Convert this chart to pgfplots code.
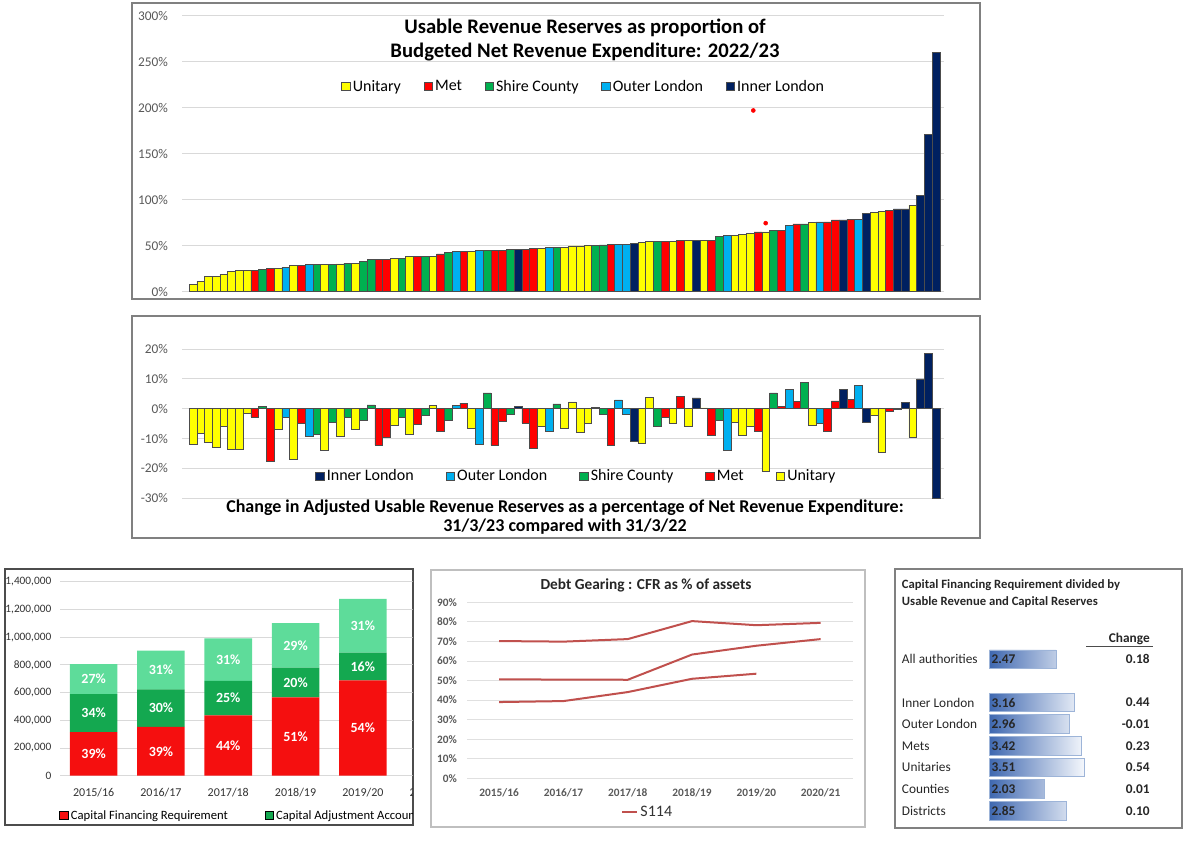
\documentclass[border=0pt]{standalone}
\usepackage{pgfplots}
\pgfplotsset{compat=1.18}
\usepackage{pgfplotstable}
\usepackage{fontspec}
\setmainfont{Carlito}

\definecolor{cY}{HTML}{FFFF00}
\definecolor{cR}{HTML}{FF0000}
\definecolor{cG}{HTML}{00B050}
\definecolor{cB}{HTML}{00B0F0}
\definecolor{cN}{HTML}{002060}
\definecolor{capred}{HTML}{F50F0F}
\definecolor{capgreen}{HTML}{14A850}
\definecolor{caplight}{HTML}{5EDC9A}
\definecolor{gearline}{HTML}{C0504D}
\definecolor{barL}{HTML}{3F68B0}
\definecolor{barR}{HTML}{F4F7FC}
\definecolor{barE}{HTML}{9DB4D8}
\definecolor{ticktxt}{HTML}{595959}

% authorities sorted by reserves ratio: position, 2022/23 ratio (%), change (pp)
\pgfplotstableread{
i top chg
1 8 -11.8
2 11.6 -8.2
3 17 -11.3
4 17 -12.8
5 19 -5.9
6 22 -13.5
7 23 -13.5
8 23 -1.6
12 25 -7.0
14 28.7 -16.9
18 30 -13.9
20 30.2 -9.3
22 31 -6.8
27 36 -5.5
29 38 -8.5
32 38.5 1.1
37 43.5 -6.5
46 47.5 -6.0
49 48 -6.4
50 49.7 2.3
51 49.7 -8.0
52 50 -4.9
59 54 -11.6
60 54.7 3.8
63 55 -4.8
65 56 -6.0
67 56.2 0.3
71 61 -4.4
72 62 -8.9
73 63 -6.0
75 65 -21.1
81 75 -5.6
89 86 -2.3
90 87.4 -14.7
94 94 -9.7
}\unitary
\pgfplotstableread{
i top chg
9 23.5 -2.7
11 25 -17.7
15 29 -4.8
25 35 -12.2
26 35 -9.6
30 38 -5.3
33 41 -7.4
36 43.5 1.9
40 45 -12.3
41 45 -4.3
44 45.7 -4.7
45 46.7 -13.4
55 51.8 -12.2
62 55 -2.8
64 56 4.1
68 56.2 -8.9
74 65 -7.6
77 66.7 0.9
79 73.6 2.5
83 75.8 -7.5
84 78 2.6
86 78.7 3.1
91 88 -1.0
}\met
\pgfplotstableread{
i top chg
10 24 0.8
17 29.3 -8.7
19 30 -4.5
21 31 -2.7
23 33 -4.0
24 35 1.3
28 36 -2.9
31 38 -2.3
34 42.5 -4.0
39 45 5.3
42 45.7 -1.8
48 47.8 1.6
53 50 0.4
54 50.8 -1.9
61 54.7 -6.0
69 60.5 -3.7
76 66.7 5.3
80 73.6 8.8
}\shire
\pgfplotstableread{
i top chg
13 26.5 -2.7
16 29.3 -9.1
35 43.5 1.2
38 45 -12.0
47 47.8 -7.7
56 51.8 3.0
57 51.8 -1.8
70 61 -13.9
78 72.5 6.4
82 75.8 -4.7
87 78.7 7.9
}\outer
\pgfplotstableread{
i top chg
43 45.7 0.8
58 52.6 -11.0
66 56 3.6
85 78 6.4
88 84.8 -4.6
92 90 -0.3
93 90 2.0
95 104.8 10.0
96 171 18.6
97 260 -30.0
}\inner

% capital financing components
\pgfplotstableread{
x cfr caa other
0 314000 274000 218000
1 352000 271000 279000
2 436000 248000 308000
3 566000 214000 322000
4 688000 200000 388000
}\capfin

% share of each component, placed at the middle of its segment
\pgfplotstableread{
x y share
0 157000 39\%
0 451000 34\%
0 697000 27\%
1 176000 39\%
1 487500 30\%
1 762500 31\%
2 218000 44\%
2 560000 25\%
2 838000 31\%
3 283000 51\%
3 673000 20\%
3 941000 29\%
4 344000 54\%
4 788000 16\%
4 1082000 31\%
}\capshare

% debt gearing
\pgfplotstableread{
x a b c
0 70.2 50.6 39.0
1 69.9 50.5 39.5
2 71.2 50.4 44.1
3 80.4 63.3 50.9
4 78.3 67.8 53.5
5 79.5 71.2 nan
}\gearing

% CFR / reserves
\pgfplotstableread{
row v chg
0 2.47 0.18
2 3.16 0.44
3 2.96 -0.01
4 3.42 0.23
5 3.51 0.54
6 2.03 0.01
7 2.85 0.10
}\cfrratio

\pgfplotsset{
  cat/.style={ybar, bar width=1, bar shift=0pt, draw=black!70, line width=0.4pt, fill=#1, forget plot},
  sqkey/.style={legend image code/.code={\draw[##1,/tikz/.cd,yshift=-0.3em] (0pt,0pt) rectangle (0.62em,0.62em);}},
  catkey/.style={sqkey, draw=black!70, line width=0.4pt, fill=#1},
}

\begin{document}
\begin{tikzpicture}

% ---------- frames and free text ----------
\begin{scope}[x=0.75pt,y=-0.75pt]
  \draw[black!50, line width=1.1pt] (132,3) rectangle (980,299);
  \draw[black!50, line width=1.1pt] (132,316) rectangle (980,538);
  \draw[black!70, line width=1.3pt] (5,569) rectangle (413,825);
  \draw[black!25, line width=0.9pt] (431,570) rectangle (865,827);
  \draw[black!50, line width=0.9pt] (895,569) rectangle (1182,828);

  \node[font=\bfseries\fontsize{15.5}{18}\selectfont] at (585,28) {Usable Revenue Reserves as proportion of};
  \node[font=\bfseries\fontsize{15.5}{18}\selectfont] at (585,52) {Budgeted Net Revenue Expenditure: 2022/23};

  \node[font=\bfseries\fontsize{13.5}{15}\selectfont] at (565,508) {Change in Adjusted Usable Revenue Reserves as a percentage of Net Revenue Expenditure:};
  \node[font=\bfseries\fontsize{13.5}{15}\selectfont] at (565,527) {31/3/23 compared with 31/3/22};

  \node[font=\bfseries\fontsize{11.5}{13}\selectfont, text=black!85] at (646,585) {Debt Gearing : CFR as \% of assets};

  \node[anchor=west, inner sep=0pt, font=\bfseries\fontsize{9.5}{11}\selectfont, text=black!85] at (901.7,585) {Capital Financing Requirement divided by};
  \node[anchor=west, inner sep=0pt, font=\bfseries\fontsize{9.5}{11}\selectfont, text=black!85] at (901.7,602.3) {Usable Revenue and Capital Reserves};
  \node[anchor=east, inner sep=0pt, font=\bfseries\fontsize{10}{12}\selectfont, text=black!85] at (1150,639) {Change};
  \draw[black!70, line width=0.6pt] (1086,646.7) -- (1153,646.7);
\end{scope}

% ---------- reserves ratio 2022/23 ----------
\begin{axis}[
  at={(136.5pt,-218.775pt)}, anchor=south west,
  scale only axis, width=571.5pt, height=207pt,
  xmin=-0.408, xmax=98.04, ymin=0, ymax=300,
  xtick=\empty, ytick={0,50,...,300},
  axis line style={draw=none}, major tick length=0pt,
  ymajorgrids, grid style={black!15, line width=0.6pt},
  /pgf/number format/assume math mode=true,
  yticklabel={\pgfmathprintnumber{\tick}\%},
  yticklabel style={font=\fontsize{10}{12}\selectfont, text=ticktxt, xshift=-7pt},
  legend style={draw=none, fill=none, at={(0.5276,0.7428)}, anchor=center,
    legend columns=-1, font=\fontsize{12}{14}\selectfont,
    /tikz/every even column/.append style={column sep=15pt}},
]
\addplot[cat=cY] table[x=i,y=top]{\unitary};
\addplot[cat=cR] table[x=i,y=top]{\met};
\addplot[cat=cG] table[x=i,y=top]{\shire};
\addplot[cat=cB] table[x=i,y=top]{\outer};
\addplot[cat=cN] table[x=i,y=top]{\inner};
\addplot[only marks, mark=*, mark size=1.5pt, color=cR, forget plot] coordinates {(73.4,197) (75,74.5)};
\addlegendimage{catkey=cY} \addlegendentry{Unitary}
\addlegendimage{catkey=cR} \addlegendentry{Met}
\addlegendimage{catkey=cG} \addlegendentry{Shire County}
\addlegendimage{catkey=cB} \addlegendentry{Outer London}
\addlegendimage{catkey=cN} \addlegendentry{Inner London}
\end{axis}

% ---------- change in reserves ----------
\begin{axis}[
  at={(136.5pt,-373.725pt)}, anchor=south west,
  scale only axis, width=571.5pt, height=111.975pt,
  xmin=-0.408, xmax=98.04, ymin=-30, ymax=20,
  xtick=\empty, ytick={-30,-20,...,20},
  axis line style={draw=none}, major tick length=0pt,
  ymajorgrids, grid style={black!15, line width=0.6pt},
  /pgf/number format/assume math mode=true,
  yticklabel={\pgfmathprintnumber{\tick}\%},
  yticklabel style={font=\fontsize{10}{12}\selectfont, text=ticktxt, xshift=-7pt},
  legend style={draw=none, fill=none, at={(0.518,0.149)}, anchor=center,
    legend columns=-1, font=\fontsize{12}{14}\selectfont,
    /tikz/every even column/.append style={column sep=22pt}},
]
\addplot[cat=cY] table[x=i,y=chg]{\unitary};
\addplot[cat=cR] table[x=i,y=chg]{\met};
\addplot[cat=cG] table[x=i,y=chg]{\shire};
\addplot[cat=cB] table[x=i,y=chg]{\outer};
\addplot[cat=cN] table[x=i,y=chg]{\inner};
\addlegendimage{catkey=cN} \addlegendentry{Inner London}
\addlegendimage{catkey=cB} \addlegendentry{Outer London}
\addlegendimage{catkey=cG} \addlegendentry{Shire County}
\addlegendimage{catkey=cR} \addlegendentry{Met}
\addlegendimage{catkey=cY} \addlegendentry{Unitary}
\end{axis}

% ---------- capital financing stack ----------
\begin{scope}
\clip (4pt,-427pt) rectangle (309.5pt,-618.5pt);
\begin{axis}[
  at={(45pt,-581.775pt)}, anchor=south west,
  scale only axis, width=302.85pt, height=145.5pt,
  xmin=-0.5, xmax=5.5, ymin=0, ymax=1400000,
  ybar stacked, bar width=0.706,
  xtick={0,...,5}, xticklabels={2015/16,2016/17,2017/18,2018/19,2019/20,2020/21},
  ytick={0,200000,...,1400000}, scaled y ticks=false,
  axis line style={draw=none}, major tick length=0pt,
  ymajorgrids, grid style={black!15, line width=0.6pt},
  /pgf/number format/assume math mode=true,
  yticklabel style={/pgf/number format/.cd, fixed, 1000 sep={,}, /tikz/.cd,
    font=\fontsize{8.5}{10}\selectfont, text=black!80, xshift=-3pt},
  xticklabel style={font=\fontsize{9}{11}\selectfont, text=black!80, yshift=-6pt},
  legend style={draw=none, fill=none, at={(-0.012,-0.206)}, anchor=west,
    legend columns=-1, font=\fontsize{9.5}{11}\selectfont,
    /tikz/every even column/.append style={column sep=25.5pt}},
  clip=false,
]
\addplot[fill=capred, draw=none, forget plot] table[x=x,y=cfr]{\capfin};
\addplot[fill=capgreen, draw=none, forget plot] table[x=x,y=caa]{\capfin};
\addplot[fill=caplight, draw=none, forget plot] table[x=x,y=other]{\capfin};
\addlegendimage{sqkey, fill=capred, draw=none} \addlegendentry{Capital Financing Requirement}
\addlegendimage{sqkey, fill=capgreen, draw=none} \addlegendentry{Capital Adjustment Account}
\end{axis}
% segment shares, on an unstacked copy of the same axes
\begin{axis}[
  at={(45pt,-581.775pt)}, anchor=south west,
  scale only axis, width=302.85pt, height=145.5pt,
  xmin=-0.5, xmax=5.5, ymin=0, ymax=1400000,
  axis lines=none, clip=false,
]
\addplot[draw=none, point meta=explicit symbolic, nodes near coords,
  every node near coord/.append style={anchor=center, text=white,
    font=\bfseries\fontsize{10.5}{12}\selectfont}]
  table[x=x, y=y, meta=share]{\capshare};
\end{axis}
\end{scope}

% ---------- debt gearing ----------
\begin{axis}[
  at={(350.25pt,-583.725pt)}, anchor=south west,
  scale only axis, width=289.35pt, height=132pt,
  xmin=-0.5, xmax=5.5, ymin=0, ymax=90,
  xtick={0,...,5}, xticklabels={2015/16,2016/17,2017/18,2018/19,2019/20,2020/21},
  ytick={0,10,...,90},
  axis line style={draw=none}, major tick length=0pt,
  ymajorgrids, grid style={black!12, line width=0.6pt},
  /pgf/number format/assume math mode=true,
  yticklabel={\pgfmathprintnumber{\tick}\%},
  yticklabel style={font=\bfseries\fontsize{8.5}{10}\selectfont, text=ticktxt, xshift=-4pt},
  xticklabel style={font=\bfseries\fontsize{8.5}{10}\selectfont, text=ticktxt, yshift=-4pt},
  legend image code/.code={\draw[#1] (0pt,0pt) -- (11pt,0pt);},
  legend style={draw=none, fill=none, at={(0.469,-0.193)}, anchor=center,
    font=\fontsize{12}{14}\selectfont, text=black!80},
]
\addplot[gearline, line width=1.5pt] table[x=x,y=a]{\gearing}; \addlegendentry{S114}
\addplot[gearline, line width=1.5pt, forget plot] table[x=x,y=b]{\gearing};
\addplot[gearline, line width=1.5pt, forget plot] table[x=x,y=c]{\gearing};
\end{axis}

% ---------- CFR divided by reserves ----------
\begin{axis}[
  at={(741.975pt,-616.125pt)}, anchor=south west,
  scale only axis, width=122.025pt, height=129.825pt,
  xmin=0, xmax=6.026, ymin=-0.5, ymax=7.5, y dir=reverse,
  axis lines=none, clip=false,
  /pgf/number format/assume math mode=true,
]
\addplot[xbar, bar shift=0pt, bar width=0.86, draw=barE, line width=0.6pt,
  left color=barL, right color=barR] table[x=v,y=row]{\cfrratio};
\addplot[draw=none, point meta=explicit,
  nodes near coords={\pgfmathprintnumber[fixed,fixed zerofill,precision=2]{\pgfplotspointmeta}},
  every node near coord/.append style={anchor=west, inner sep=1.5pt,
    font=\bfseries\fontsize{10}{12}\selectfont, text=black!85}]
  table[x expr=0, y=row, meta=v]{\cfrratio};
\addplot[draw=none, point meta=explicit,
  nodes near coords={\pgfmathprintnumber[fixed,fixed zerofill,precision=2]{\pgfplotspointmeta}},
  every node near coord/.append style={anchor=east, inner sep=3pt,
    font=\bfseries\fontsize{10}{12}\selectfont, text=black!85}]
  table[x expr=6.1, y=row, meta=chg]{\cfrratio};
\end{axis}
% row names
\begin{scope}[x=0.75pt,y=-0.75pt]
  \foreach \name/\yy in {All authorities/659.3, Inner London/702.7, Outer London/724.3, Mets/746, Unitaries/767.3, Counties/789, Districts/810.7}
    \node[anchor=west, inner sep=0pt, font=\fontsize{10}{12}\selectfont, text=black!85] at (901.7,\yy) {\name};
\end{scope}

\pgfresetboundingbox
\useasboundingbox (0,0) rectangle (900pt,-633pt);
\end{tikzpicture}
\end{document}
